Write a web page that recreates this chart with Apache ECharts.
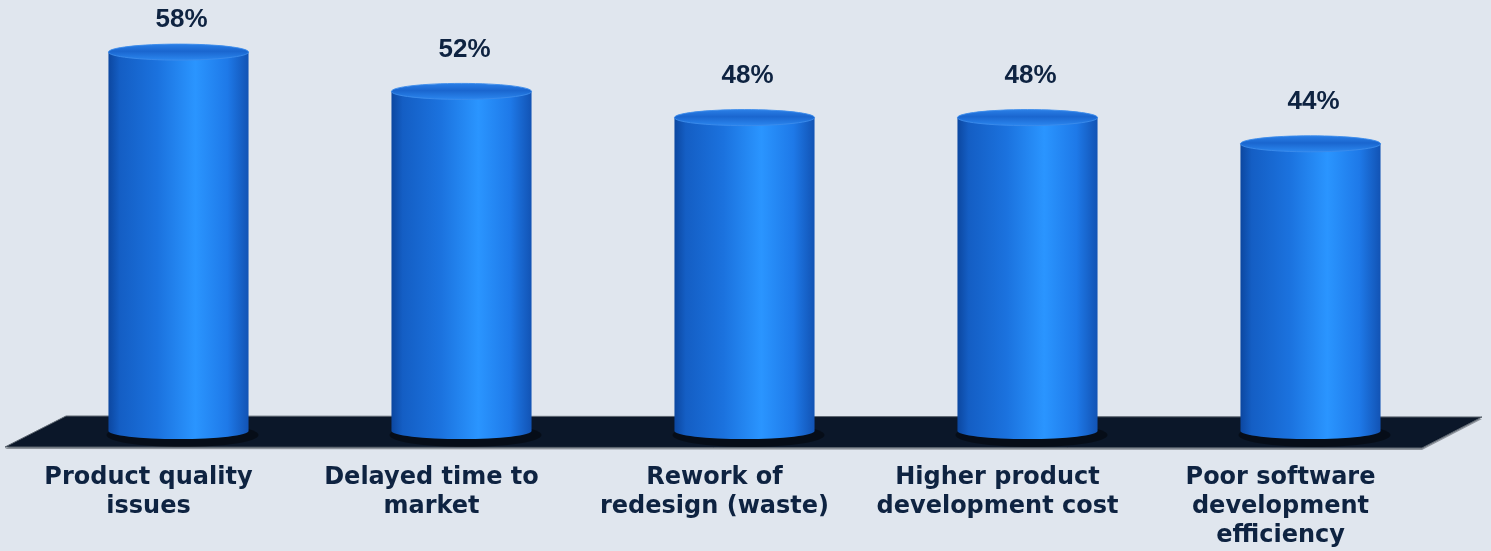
<!DOCTYPE html>
<html>
<head>
<meta charset="utf-8">
<script src="https://cdn.jsdelivr.net/npm/echarts@6/dist/echarts.min.js"></script>
<style>
html,body{margin:0;padding:0;background:#e0e6ee;}
#chart{width:1491px;height:551px;}
</style>
</head>
<body>
<div id="chart"></div>
<script>
var categories = [
  "Product quality\nissues",
  "Delayed time to\nmarket",
  "Rework of\nredesign (waste)",
  "Higher product\ndevelopment cost",
  "Poor software\ndevelopment\nefficiency"
];
var values = [58, 52, 48, 48, 44];
var valueLabels = ["58%", "52%", "48%", "48%", "44%"];

var chart = echarts.init(document.getElementById('chart'), null, {renderer: 'canvas'});

var bodyGrad = new echarts.graphic.LinearGradient(0, 0, 1, 0, [
  {offset: 0, color: '#0c47a0'},
  {offset: 0.08, color: '#145ec4'},
  {offset: 0.35, color: '#1b72de'},
  {offset: 0.62, color: '#2a95ff'},
  {offset: 0.85, color: '#1e79e8'},
  {offset: 1, color: '#1253b4'}
]);
var topGrad = new echarts.graphic.LinearGradient(0, 0, 0, 1, [
  {offset: 0, color: '#2b80e8'},
  {offset: 0.45, color: '#1a66cf'},
  {offset: 1, color: '#2c88f0'}
]);

function renderFloor(params, api) {
  var cs = params.coordSys;
  var yBase = api.coord([0, 0])[1];
  var x0 = cs.x, x1 = cs.x + cs.width;
  var pts = [
    [x0 + 29, yBase - 16],
    [x1 + 30, yBase - 15],
    [x1 - 30, yBase + 16],
    [x0 - 32, yBase + 15]
  ];
  return {
    type: 'group',
    children: [
      {
        type: 'polygon',
        shape: {points: [[pts[0][0], pts[0][1] + 2], [pts[1][0], pts[1][1] + 2], [pts[2][0], pts[2][1] + 2], [pts[3][0], pts[3][1] + 2]]},
        style: {fill: '#8d939b'}
      },
      {
        type: 'polygon',
        shape: {points: pts},
        style: {fill: '#0b1729', stroke: '#5d6670', lineWidth: 1}
      }
    ]
  };
}

function renderBar(params, api) {
  var idx = api.value(0);
  var val = api.value(1);
  var top = api.coord([idx, val]);
  var base = api.coord([idx, 0]);
  var bw = api.size([1, 0])[0] * 0.495;
  var rx = bw / 2;
  var ry = 8;
  var cx = top[0];
  var yTop = top[1];
  var yBase = base[1] - 1;
  var path = 'M' + (cx - rx) + ' ' + yTop +
    ' L' + (cx - rx) + ' ' + yBase +
    ' A' + rx + ' ' + ry + ' 0 0 0 ' + (cx + rx) + ' ' + yBase +
    ' L' + (cx + rx) + ' ' + yTop + ' Z';
  var labelY = Math.max(yTop - 42, 20);
  return {
    type: 'group',
    children: [
      {
        type: 'ellipse',
        shape: {cx: cx + 4, cy: yBase + 4, rx: rx + 6, ry: ry + 4},
        style: {fill: 'rgba(0,0,0,0.4)'}
      },
      {
        type: 'path',
        shape: {pathData: path},
        style: {fill: bodyGrad}
      },
      {
        type: 'ellipse',
        shape: {cx: cx, cy: yTop, rx: rx, ry: ry},
        style: {fill: topGrad, stroke: 'rgba(60,140,235,0.9)', lineWidth: 1}
      },
      {
        type: 'text',
        style: {
          text: valueLabels[params.dataIndex],
          x: cx + 3,
          y: labelY,
          align: 'center',
          verticalAlign: 'middle',
          font: 'bold 26px "Liberation Sans", Arial, sans-serif',
          fill: '#0e2341'
        }
      }
    ]
  };
}

chart.setOption({
  backgroundColor: '#e0e6ee',
  animation: false,
  grid: {left: 37, right: 39, top: 39, bottom: 119, containLabel: false},
  xAxis: {
    type: 'category',
    data: categories,
    axisLine: {show: false},
    axisTick: {show: false},
    splitLine: {show: false},
    axisLabel: {
      interval: 0,
      margin: 31,
      padding: [0, 60, 0, 0],
      color: '#0e2341',
      fontFamily: '"DejaVu Sans", Verdana, sans-serif',
      fontWeight: 'bold',
      fontSize: 24,
      lineHeight: 29,
      align: 'center',
      verticalAlign: 'top'
    }
  },
  yAxis: {
    type: 'value',
    min: 0,
    max: 60,
    show: false,
    splitLine: {show: false}
  },
  series: [
    {
      type: 'custom',
      renderItem: renderFloor,
      data: [[0, 0]],
      z: 1,
      silent: true
    },
    {
      type: 'custom',
      renderItem: renderBar,
      data: values.map(function (v, i) { return [i, v]; }),
      encode: {x: 0, y: 1},
      z: 2
    }
  ]
});
</script>
</body>
</html>
